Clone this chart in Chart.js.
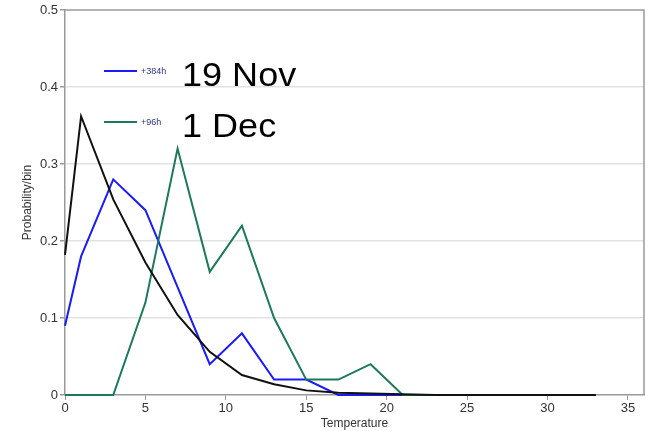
<!DOCTYPE html>
<html>
<head>
<meta charset="utf-8">
<script src="https://cdn.jsdelivr.net/npm/chart.js@4/dist/chart.umd.min.js"></script>
<style>
  html, body { margin: 0; padding: 0; background: #fff; }
  #wrap { width: 654px; height: 431px; position: relative; }
</style>
</head>
<body>
<div id="wrap"><canvas id="c" width="654" height="431"></canvas></div>
<script>
// ---- data ----
const temps = [0, 1, 3, 5, 7, 9, 11, 13, 15, 17, 19, 21, 23, 25, 27, 29, 31, 33];
const blue384h = [0.09, 0.18, 0.28, 0.24, 0.14, 0.04, 0.08, 0.02, 0.02, 0, 0, 0, 0, 0, 0, 0, 0, 0];
const green96h = [0, 0, 0, 0.12, 0.32, 0.16, 0.22, 0.10, 0.02, 0.02, 0.04, 0, 0, 0, 0, 0, 0, 0];
const climate  = [0.182, 0.362, 0.254, 0.172, 0.104, 0.056, 0.026, 0.014, 0.006, 0.003, 0.002, 0.001, 0, 0, 0, 0, 0, 0];
const seriesLabels = ['+384h', '+96h'];
const dateLabels = ['19 Nov', '1 Dec'];
const xTitle = 'Temperature';
const yTitle = 'Probability/bin';

const BLUE = '#1a1aff';
const GREEN = '#1b7a57';
const FONT = "'Liberation Sans', Arial, Helvetica, sans-serif";

function pts(ys) { return temps.map((t, i) => ({ x: t, y: ys[i] })); }

const annot = {
  id: 'annot',
  afterDraw(chart) {
    const ctx = chart.ctx;
    const ca = chart.chartArea;
    ctx.save();
    // top and right frame
    ctx.strokeStyle = '#9a9a9a';
    ctx.lineWidth = 1.5;
    ctx.beginPath();
    ctx.moveTo(ca.left, ca.top);
    ctx.lineTo(ca.right, ca.top);
    ctx.lineTo(ca.right, ca.bottom);
    ctx.stroke();
    // legend entries
    const colors = [BLUE, GREEN];
    const rows = [71, 122];
    for (let i = 0; i < 2; i++) {
      ctx.strokeStyle = colors[i];
      ctx.lineWidth = 2;
      ctx.beginPath();
      ctx.moveTo(104, rows[i]);
      ctx.lineTo(137, rows[i]);
      ctx.stroke();
      ctx.fillStyle = '#333388';
      ctx.font = '9px ' + FONT;
      ctx.textBaseline = 'middle';
      ctx.textAlign = 'left';
      ctx.fillText(seriesLabels[i], 141, rows[i] + 1);
      ctx.fillStyle = '#000';
      ctx.font = '34px ' + FONT;
      ctx.textBaseline = 'alphabetic';
      ctx.save();
      ctx.translate(182, rows[i] + 15);
      ctx.scale(1.06, 1);
      ctx.fillText(dateLabels[i], 0, 0);
      ctx.restore();
    }
    ctx.restore();
  }
};

new Chart(document.getElementById('c'), {
  type: 'line',
  data: {
    datasets: [
      { label: seriesLabels[0], data: pts(blue384h), borderColor: BLUE, borderWidth: 2, pointRadius: 0, tension: 0, clip: 4 },
      { label: seriesLabels[1], data: pts(green96h), borderColor: GREEN, borderWidth: 2, pointRadius: 0, tension: 0, clip: 4 },
      { label: 'climate', data: pts(climate), borderColor: '#111111', borderWidth: 2, pointRadius: 0, tension: 0, clip: 4 }
    ].reverse()
  },
  options: {
    responsive: false,
    animation: false,
    layout: { padding: { top: 10, right: 10, left: 0, bottom: 0 } },
    plugins: { legend: { display: false }, tooltip: { enabled: false } },
    scales: {
      x: {
        type: 'linear', min: 0, max: 36,
        afterFit(s) { s.height = 36; },
        ticks: { stepSize: 5, includeBounds: false, color: '#333', padding: 1, font: { family: FONT, size: 13 }, maxRotation: 0 },
        grid: { drawOnChartArea: false, tickLength: 5, color: '#9a9a9a' },
        border: { color: '#9a9a9a', width: 1.5 },
        title: { display: true, text: xTitle, color: '#333', font: { family: FONT, size: 12 }, padding: { top: 3, bottom: 0 } }
      },
      y: {
        min: 0, max: 0.5,
        afterFit(s) { s.width = 65; },
        ticks: { stepSize: 0.1, color: '#333', padding: 2, font: { family: FONT, size: 13 } },
        grid: {
          tickLength: 5,
          color: (c) => (c.tick && (c.tick.value === 0 || Math.abs(c.tick.value - 0.5) < 1e-9)) ? 'rgba(0,0,0,0)' : '#e2e2e2',
          tickColor: '#9a9a9a',
          lineWidth: 1.5
        },
        border: { color: '#9a9a9a', width: 1.5 },
        title: { display: true, text: yTitle, color: '#333', font: { family: FONT, size: 12 }, padding: { top: 20, bottom: 0 } }
      }
    }
  },
  plugins: [annot]
});
</script>
</body>
</html>
